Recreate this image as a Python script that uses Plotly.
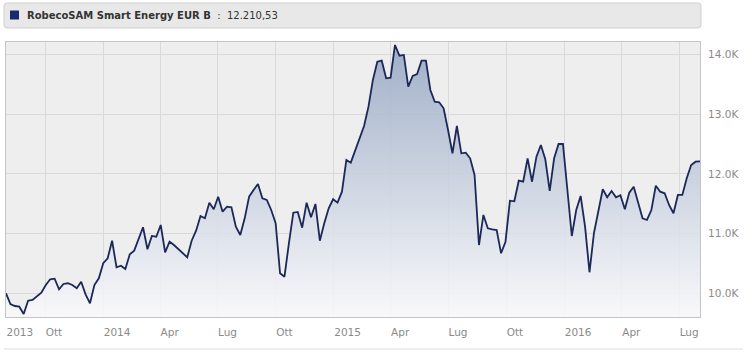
import pandas as pd
import plotly.graph_objects as go

# ---- data (weekly values) ----
start_date = "2013-07-31"
values = [
    10000, 9821, 9787, 9776, 9653, 9876, 9888, 9943, 10010, 10139,
    10235, 10245, 10067, 10156, 10168, 10139, 10084, 10194, 9983, 9832,
    10139, 10251, 10503, 10586, 10881, 10436, 10462, 10407, 10653, 10714,
    10910, 11106, 10737, 10960, 10948, 11144, 10687, 10864, 10809, 10737,
    10658, 10603, 10881, 11049, 11295, 11256, 11518, 11407, 11618, 11367,
    11451, 11441, 11116, 10977, 11256, 11618, 11730, 11831, 11591, 11563,
    11395, 11173, 10335, 10278, 10838, 11350, 11362, 11099, 11518, 11273,
    11496, 10881, 11173, 11424, 11575, 11518, 11702, 12233, 12188, 12400,
    12580, 12802, 13126, 13573, 13879, 13896, 13601, 13611, 14159, 13980,
    13992, 13461, 13640, 13673, 13896, 13896, 13405, 13209, 13199, 13099,
    12735, 12345, 12802, 12345, 12355, 12261, 11982, 10809, 11312, 11089,
    11072, 11060, 10670, 10864, 11551, 11541, 11886, 11869, 12261, 11869,
    12288, 12484, 12245, 11714, 12261, 12501, 12501, 11786, 10960, 11395,
    11630, 11116, 10352, 11005, 11395, 11742, 11608, 11714, 11608, 11642,
    11407, 11685, 11786, 11508, 11256, 11228, 11395, 11802, 11702, 11675,
    11479, 11340, 11647, 11647, 11926, 12149, 12204, 12211,
]
dates = pd.date_range(start_date, periods=len(values), freq="7D")

series_name = "RobecoSAM Smart Energy EUR B"
last_value_text = "12.210,53"

x_tick_dates = ["2013-07-31", "2013-10-01", "2014-01-01", "2014-04-01", "2014-07-01",
                "2014-10-01", "2015-01-01", "2015-04-01", "2015-07-01", "2015-10-01",
                "2016-01-01", "2016-04-01", "2016-07-01"]
x_tick_labels = ["2013", "Ott", "2014", "Apr", "Lug", "Ott", "2015", "Apr", "Lug",
                 "Ott", "2016", "Apr", "Lug"]
y_tick_vals = [10000, 11000, 12000, 13000, 14000]
y_tick_labels = ["10.0K", "11.0K", "12.0K", "13.0K", "14.0K"]
y_range = [9603, 14209]

# ---- figure ----
W, H = 752, 361
ml, mr, mt, mb = 6, 52, 42, 44
pw, ph = W - ml - mr, H - mt - mb

def px(x):
    return (x - ml) / pw

def py(y):
    return (H - mb - y) / ph

fig = go.Figure()
fig.add_trace(go.Scatter(
    x=dates, y=values, mode="lines",
    line=dict(color="#1b2858", width=1.8),
    fill="tozeroy",
    fillgradient=dict(type="vertical",
                      colorscale=[[0, "rgba(250,250,252,0.85)"], [1, "rgba(150,167,195,0.88)"]],
                      start=y_range[0], stop=14150),
    hoverinfo="skip", showlegend=False,
))

font_family = "DejaVu Sans, Verdana, sans-serif"

fig.update_layout(
    width=W, height=H,
    margin=dict(l=ml, r=mr, t=mt, b=mb, pad=0),
    paper_bgcolor="white",
    plot_bgcolor="#eeeeee",
    font=dict(family=font_family, size=10.5, color="#8a8a8a"),
    xaxis=dict(
        range=[dates[0], dates[-1]],
        tickvals=x_tick_dates, ticktext=x_tick_labels,
        ticklabelposition="outside right",
        ticks="", ticklabelstandoff=5,
        showgrid=True, gridcolor="#d9d9d9", gridwidth=1,
        showline=True, linecolor="#c4c4c4", linewidth=1, mirror=True,
        zeroline=False,
        tickfont=dict(size=10.5, color="#8a8a8a"),
    ),
    yaxis=dict(
        side="right",
        range=y_range,
        tickvals=y_tick_vals, ticktext=y_tick_labels,
        ticks="outside", ticklen=5, tickcolor="rgba(0,0,0,0)",
        showgrid=True, gridcolor="#d9d9d9", gridwidth=1,
        showline=True, linecolor="#c4c4c4", linewidth=1, mirror=True,
        zeroline=False,
        tickfont=dict(size=10.5, color="#8a8a8a"),
    ),
)

# header box (rounded rectangle)
x0, x1, y0, y1, r = 4, 701, 3, 28, 3
path = (f"M {px(x0 + r)},{py(y0)} L {px(x1 - r)},{py(y0)} "
        f"Q {px(x1)},{py(y0)} {px(x1)},{py(y0 + r)} "
        f"L {px(x1)},{py(y1 - r)} Q {px(x1)},{py(y1)} {px(x1 - r)},{py(y1)} "
        f"L {px(x0 + r)},{py(y1)} Q {px(x0)},{py(y1)} {px(x0)},{py(y1 - r)} "
        f"L {px(x0)},{py(y0 + r)} Q {px(x0)},{py(y0)} {px(x0 + r)},{py(y0)} Z")
fig.add_shape(type="path", xref="paper", yref="paper", path=path,
              fillcolor="#e8e8e8", line=dict(color="#cfcfcf", width=1), layer="above")
# legend marker square
fig.add_shape(type="rect", xref="paper", yref="paper",
              x0=px(10), x1=px(19), y0=py(19.5), y1=py(10.5),
              fillcolor="#1a2a6c", line=dict(width=0), layer="above")
fig.add_annotation(xref="paper", yref="paper", x=px(25), y=py(15.5),
                   xanchor="left", yanchor="middle", showarrow=False,
                   text=f"<b>{series_name}</b>  :  {last_value_text}",
                   font=dict(family=font_family, size=10, color="#333333"))
# bottom separator line
fig.add_shape(type="line", xref="paper", yref="paper",
              x0=px(4), x1=px(743), y0=py(349), y1=py(349),
              line=dict(color="#dddddd", width=1))

fig.write_html("out.html", config={"displayModeBar": False},
               post_script="document.body.style.margin='0px';")
